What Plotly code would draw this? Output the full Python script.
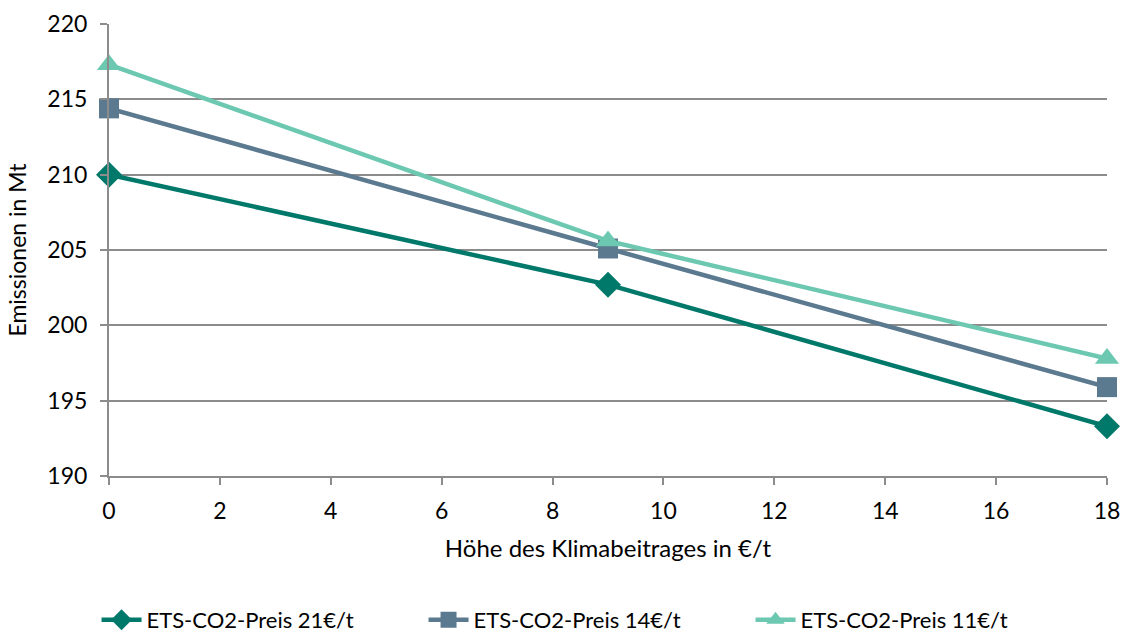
import plotly.graph_objects as go

x_vals = [0, 9, 18]
names = ["ETS-CO2-Preis 21€/t", "ETS-CO2-Preis 14€/t", "ETS-CO2-Preis 11€/t"]
s21 = [210.0, 202.7, 193.3]
s14 = [214.4, 205.1, 195.9]
s11 = [217.3, 205.6, 197.8]
colors = ["#00786A", "#5B7A90", "#6CC8B0"]
symbols = ["diamond", "square", "triangle-up"]
sizes = [20, 20, 21]

fig = go.Figure()
for name, ys, c, sym, sz in zip(names, [s21, s14, s11], colors, symbols, sizes):
    fig.add_trace(go.Scatter(
        x=x_vals, y=ys, name=name, mode="lines+markers",
        line=dict(color=c, width=4.5),
        marker=dict(symbol=sym, size=sz, color=c),
        cliponaxis=False,
    ))

FAM = "Lato, Open Sans, sans-serif"
fig.update_layout(
    width=1125, height=634,
    margin=dict(l=109, r=18, t=24, b=158, autoexpand=False),
    paper_bgcolor="white", plot_bgcolor="white",
    font=dict(family=FAM, size=23, color="#000000"),
    showlegend=True,
    legend=dict(orientation="h", x=0.479, xanchor="center", y=-0.272, yanchor="top",
                font=dict(family=FAM, size=22), entrywidth=272,
                itemwidth=40),
    xaxis=dict(range=[0, 18], dtick=2, tick0=0, showgrid=False, zeroline=False,
               automargin=False,
               showline=True, linecolor="#8C8C8C", linewidth=2,
               ticks="outside", ticklen=7, tickcolor="#8C8C8C", tickwidth=2,
               ticklabelstandoff=6,
               title=dict(text="Höhe des Klimabeitrages in €/t", font=dict(size=24), standoff=18),
               tickfont=dict(size=23)),
    yaxis=dict(range=[190, 220], dtick=5, showgrid=True, gridcolor="#8C8C8C", gridwidth=1.5,
               automargin=False,
               zeroline=False, showline=True, linecolor="#8C8C8C", linewidth=2,
               ticks="outside", ticklen=7, tickcolor="#8C8C8C", tickwidth=2,
               ticklabelstandoff=8,
               title=dict(text="Emissionen in Mt", font=dict(size=23), standoff=14),
               tickfont=dict(size=23)),
)
fig.write_html(
    "out.html",
    config={"displayModeBar": False},
    post_script="document.body.style.margin='0';document.body.style.padding='0';",
)
